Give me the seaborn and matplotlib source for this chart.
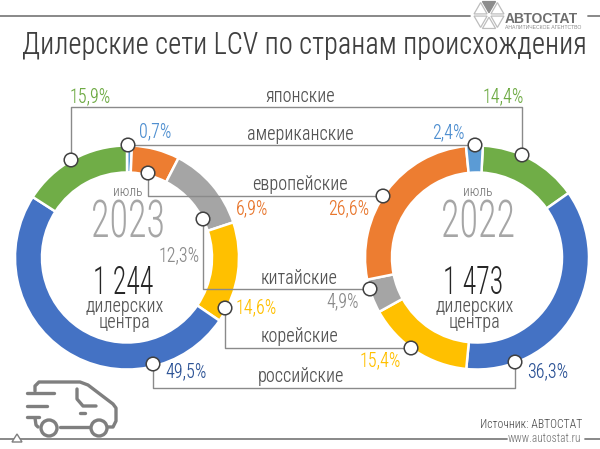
import numpy as np
import matplotlib
matplotlib.use("Agg")
import matplotlib.pyplot as plt
from matplotlib.patches import Circle, Polygon
from matplotlib.font_manager import FontProperties, findfont
import seaborn as sns
from fontTools.ttLib import TTFont
from fontTools.varLib import instancer

periods = ["2023", "2022"]
months = ["июль", "июль"]
dealers = ["1 244", "1 473"]
origins = ["американские", "европейские", "китайские", "корейские", "российские", "японские"]
values_2023 = [0.7, 6.9, 12.3, 14.6, 49.5, 15.9]
values_2022 = [2.4, 26.6, 4.9, 15.4, 36.3, 14.4]
palette = sns.color_palette(["#5B9BD5", "#ED7D31", "#A5A5A5", "#FFC000", "#4472C4", "#70AD47"])
label_colors = ["#4F8FD0", "#E8772E", "#8C8C8C", "#FFC000", "#2F5597", "#6FAB45"]

sns.set_theme(style="white")


def narrow_font(target_digit_em, weight, fname):
    """Write a horizontally condensed copy of Roboto for the reference's narrow lettering."""
    f = TTFont(findfont(FontProperties(family="Roboto", weight="normal")))
    if "fvar" in f:
        limits = {}
        for a in f["fvar"].axes:
            if a.axisTag == "wght":
                limits["wght"] = max(a.minValue, min(weight, a.maxValue))
            elif a.axisTag == "wdth":
                limits["wdth"] = a.minValue
            else:
                limits[a.axisTag] = a.defaultValue
        f = instancer.instantiateVariableFont(f, limits)
    upem = f["head"].unitsPerEm
    cmap = f.getBestCmap()
    s = target_digit_em * upem / f["hmtx"].metrics[cmap[ord("0")]][0]
    glyf = f["glyf"]
    for name in glyf.keys():
        g = glyf[name]
        if g.isComposite():
            for c in g.components:
                c.x = int(round(c.x * s))
        elif g.numberOfContours > 0:
            g.coordinates.scale((s, 1))
            g.coordinates.toInt()
        g.removeHinting() if hasattr(g, "removeHinting") else None
        g.recalcBounds(glyf)
    for name, (adv, lsb) in list(f["hmtx"].metrics.items()):
        f["hmtx"].metrics[name] = (int(round(adv * s)), int(round(lsb * s)))
    for tag in ("fpgm", "prep", "cvt ", "hdmx", "VDMX", "LTSH"):
        if tag in f:
            del f[tag]
    f.save(fname)
    return FontProperties(fname=fname)


NARROW = narrow_font(0.44, 330, "narrow.ttf")
BIGNUM = narrow_font(0.36, 300, "bignum.ttf")
plt.rcParams["font.family"] = ["Roboto", "DejaVu Sans"]

W, H = 600, 449
fig = plt.figure(figsize=(W / 100, H / 100), dpi=100, facecolor="white")
ax = fig.add_axes([0, 0, 1, 1])
Y = lambda py: H - py
LINE = "#8A8A8A"

ax.pie(values_2023, colors=palette, center=(127, Y(257.5)), radius=112, startangle=90, counterclock=False,
       wedgeprops=dict(width=27, edgecolor="white", linewidth=1.8))
order_2022 = [5, 4, 3, 2, 1, 0]
ax.pie([values_2022[i] for i in order_2022], colors=[palette[i] for i in order_2022],
       center=(477, Y(257.5)), radius=112, startangle=87, counterclock=False,
       wedgeprops=dict(width=27, edgecolor="white", linewidth=1.8))
ax.set_xlim(0, W)
ax.set_ylim(0, H)
ax.set_aspect("equal")
ax.axis("off")


def T(x, y, s, size, color, ha="center", font=NARROW):
    fp = font.copy()
    fp.set_size(size)
    ax.text(x, Y(y), s, fontproperties=fp, color=color, ha=ha, va="center", zorder=6)


def path(pts, color=LINE, lw=1.0, z=3):
    ax.plot([p[0] for p in pts], [Y(p[1]) for p in pts], color=color, lw=lw, zorder=z,
            solid_capstyle="round", solid_joinstyle="round")


path([(0, 16), (470, 16)], "#7F7F7F", 1.3)
path([(588, 16), (600, 16)], "#7F7F7F", 1.3)
path([(0, 439), (507, 439)], "#7F7F7F", 1.3)
path([(585, 439), (600, 439)], "#7F7F7F", 1.3)

T(304, 45, "Дилерские сети LCV по странам происхождения", 22.6, "#404040")

conn = {
    "японские": ([(71, 160), (71, 107), (522, 107), (522, 155)], 300, 96),
    "американские": ([(128, 145), (475, 145)], 300, 134),
    "европейские": ([(148, 173), (148, 196), (383, 196)], 300, 185),
    "китайские": ([(203, 219), (203, 289), (370, 289)], 299, 278),
    "корейские": ([(225, 308), (225, 348), (411, 348)], 300, 337),
    "российские": ([(153, 364), (153, 388), (515, 388), (515, 362)], 301, 376),
}
for name in origins:
    pts, tx, ty = conn[name]
    path(pts)
    T(tx, ty, name, 14.5, "#555555")
    for p in (pts[0], pts[-1]):
        ax.add_patch(Circle((p[0], Y(p[1])), 6.8, fc="white", ec="#404040", lw=1.1, zorder=5))

pos_2023 = [(155, 132), (252, 209), (179, 256), (256, 308), (186, 372), (90, 97)]
pos_2022 = [(448, 133), (349, 209), (343, 302), (380, 361), (548, 372), (503, 97)]
fmt = lambda v: f"{v:.1f}".replace(".", ",") + "%"
for vals, poss in ((values_2023, pos_2023), (values_2022, pos_2022)):
    for v, (x, y), c in zip(vals, poss, label_colors):
        T(x, y, fmt(v), 14.4, c)

for cx, per, mon, dl in zip((127, 477), periods, months, dealers):
    T(cx + 1, 192, mon, 11, "#808080")
    T(cx + 1, 223, per, 37, "#A6A6A6", font=BIGNUM)
    T(cx - 4, 283, dl, 27, "#262626", font=BIGNUM)
    T(cx - 2, 306, "дилерских", 14.5, "#595959")
    T(cx - 2, 323, "центра", 14.5, "#595959")

T(582, 425, "Источник: АВТОСТАТ", 9.4, "#595959", ha="right")
T(581, 439, "www.autostat.ru", 9, "#7F7F7F", ha="right")

cx, cy, R = 489, 15, 15
for k in range(6):
    a0, a1 = np.deg2rad(60 * k + 4), np.deg2rad(60 * k + 56)
    tri = [(cx + 2.2 * np.cos((a0 + a1) / 2), cy - 2.2 * np.sin((a0 + a1) / 2)),
           (cx + R * np.cos(a0), cy - R * np.sin(a0)), (cx + R * np.cos(a1), cy - R * np.sin(a1))]
    filled = k == 1
    ax.add_patch(Polygon([(x, Y(y)) for x, y in tri], closed=True,
                         fc="#8C8C8C" if filled else "white", ec="#BDBDBD" if not filled else "#8C8C8C",
                         lw=0.9, zorder=7))
ax.text(505, Y(19), "АВТОСТАТ", fontsize=10, color="#6E6E6E", weight="bold", va="center",
        family=["Liberation Sans", "DejaVu Sans"], zorder=7)
ax.text(505, Y(27.5), "АНАЛИТИЧЕСКОЕ АГЕНТСТВО", fontsize=3.7, color="#8C8C8C", va="center",
        family=["Liberation Sans", "DejaVu Sans"], zorder=7)

VAN = "#7F7F7F"
lw = 2.4
path([(35, 391), (35, 386), (39, 382), (80, 382), (88, 385), (113, 404), (116, 408), (116, 421), (113, 427), (108, 427)], VAN, lw)
path([(60, 427), (89, 427)], VAN, lw)
path([(38, 427), (36, 425), (35, 418)], VAN, lw)
path([(27, 393), (54, 393)], VAN, lw)
path([(27, 406), (47, 406)], VAN, lw)
path([(27, 417), (39, 417)], VAN, lw)
path([(77, 389), (77, 399), (83, 406), (96, 406)], VAN, lw)
path([(80, 413), (85, 413)], VAN, lw)
for wx in (49, 99):
    ax.add_patch(Circle((wx, Y(428)), 8, fc="white", ec=VAN, lw=lw, zorder=4))

ax.add_patch(Polygon([(17, Y(434)), (12, Y(442)), (22, Y(442))], closed=True, fc="white", ec="#7F7F7F", lw=1.0, zorder=5))

fig.savefig("out.png", dpi=100, facecolor="white")
